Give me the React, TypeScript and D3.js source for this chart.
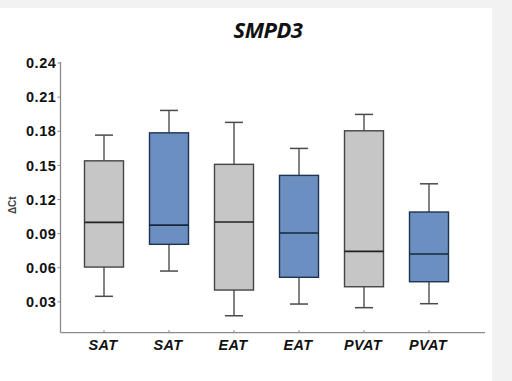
import React from "react";
import * as d3 from "d3";

const categories = ["SAT", "SAT", "EAT", "EAT", "PVAT", "PVAT"];
const groups = ["gray", "blue", "gray", "blue", "gray", "blue"];
const whiskerLow = [0.0349, 0.0571, 0.0178, 0.0281, 0.0249, 0.0284];
const q1 = [0.0606, 0.0806, 0.0404, 0.0516, 0.0433, 0.0477];
const median = [0.0999, 0.0975, 0.1002, 0.0905, 0.0744, 0.0721];
const q3 = [0.154, 0.1786, 0.1509, 0.1412, 0.1804, 0.109];
const whiskerHigh = [0.1766, 0.1983, 0.1878, 0.1649, 0.1948, 0.1338];
const yTicks = [0.03, 0.06, 0.09, 0.12, 0.15, 0.18, 0.21, 0.24];
const yAxisMin = 0.003;

const W = 512;
const H = 381;

export default function App() {
  const y = d3.scaleLinear().domain([0, 0.24]).range([336, 63]);
  const x = d3
    .scalePoint<number>()
    .domain(categories.map((_, i) => i))
    .range([104, 429]);
  const bw = 39;
  const cap = 18;
  const fill: Record<string, string> = { gray: "#c6c6c6", blue: "#6b8fc0" };
  const edge: Record<string, string> = { gray: "#454545", blue: "#1e3350" };
  const axisColor = "#8a8a8a";
  const axisX0 = 60.5;
  const axisX1 = 485;
  const yBase = y(yAxisMin);

  return (
    <svg
      width={W}
      height={H}
      style={{ position: "absolute", left: 0, top: 0 }}
      fontFamily="'Liberation Sans', Arial, sans-serif"
    >
      <rect x={0} y={0} width={W} height={H} fill="#f2f2f2" />
      <rect x={0} y={8} width={492} height={H - 8} fill="#ffffff" />
      <text
        x={268}
        y={38}
        textAnchor="middle"
        fontSize={22}
        fontWeight="bold"
        fontStyle="italic"
        fontFamily="'Open Sans', 'Liberation Sans', sans-serif"
        fill="#111"
        letterSpacing={-0.5}
      >
        SMPD3
      </text>
      {/* y axis */}
      <line x1={axisX0} x2={axisX0} y1={y(0.24) - 1} y2={yBase} stroke={axisColor} strokeWidth={1.3} />
      {yTicks.map((t) => (
        <g key={t}>
          <line x1={axisX0 - 3} x2={axisX0} y1={y(t)} y2={y(t)} stroke={axisColor} strokeWidth={1} />
          <text
            x={axisX0 - 4}
            y={y(t)}
            dy="0.36em"
            textAnchor="end"
            fontSize={14.5}
            fontWeight="bold"
            fill="#111"
            letterSpacing={0.6}
          >
            {t.toFixed(2)}
          </text>
        </g>
      ))}
      <text
        transform={`translate(16,${y(0.115)}) rotate(-90)`}
        textAnchor="middle"
        fontSize={10}
        fontWeight="bold"
        fill="#444"
      >
        ΔCt
      </text>
      {/* x axis */}
      <line x1={axisX0} x2={axisX1} y1={yBase} y2={yBase} stroke={axisColor} strokeWidth={1.3} />
      {categories.map((c, i) => (
        <g key={i}>
          <line x1={x(i)!} x2={x(i)!} y1={yBase} y2={yBase - 2.5} stroke={axisColor} strokeWidth={1} />
          <text
            x={x(i)! - 1}
            y={yBase + 17}
            textAnchor="middle"
            fontSize={14.5}
            fontWeight="bold"
            fontStyle="italic"
            fill="#111"
            letterSpacing={0.4}
          >
            {c}
          </text>
        </g>
      ))}
      {/* boxes */}
      {categories.map((_, i) => {
        const cx = x(i)!;
        const g = groups[i];
        return (
          <g key={"b" + i}>
            <line x1={cx} x2={cx} y1={y(whiskerHigh[i])} y2={y(q3[i])} stroke="#5a5a5a" strokeWidth={1.5} />
            <line x1={cx} x2={cx} y1={y(q1[i])} y2={y(whiskerLow[i])} stroke="#5a5a5a" strokeWidth={1.5} />
            <line x1={cx - cap / 2} x2={cx + cap / 2} y1={y(whiskerHigh[i])} y2={y(whiskerHigh[i])} stroke="#4a4a4a" strokeWidth={1.5} />
            <line x1={cx - cap / 2} x2={cx + cap / 2} y1={y(whiskerLow[i])} y2={y(whiskerLow[i])} stroke="#4a4a4a" strokeWidth={1.5} />
            <rect
              x={cx - bw / 2}
              y={y(q3[i])}
              width={bw}
              height={y(q1[i]) - y(q3[i])}
              fill={fill[g]}
              stroke={edge[g]}
              strokeWidth={1.4}
            />
            <line x1={cx - bw / 2} x2={cx + bw / 2} y1={y(median[i])} y2={y(median[i])} stroke={g === "gray" ? "#222" : "#16283f"} strokeWidth={1.6} />
          </g>
        );
      })}
    </svg>
  );
}
